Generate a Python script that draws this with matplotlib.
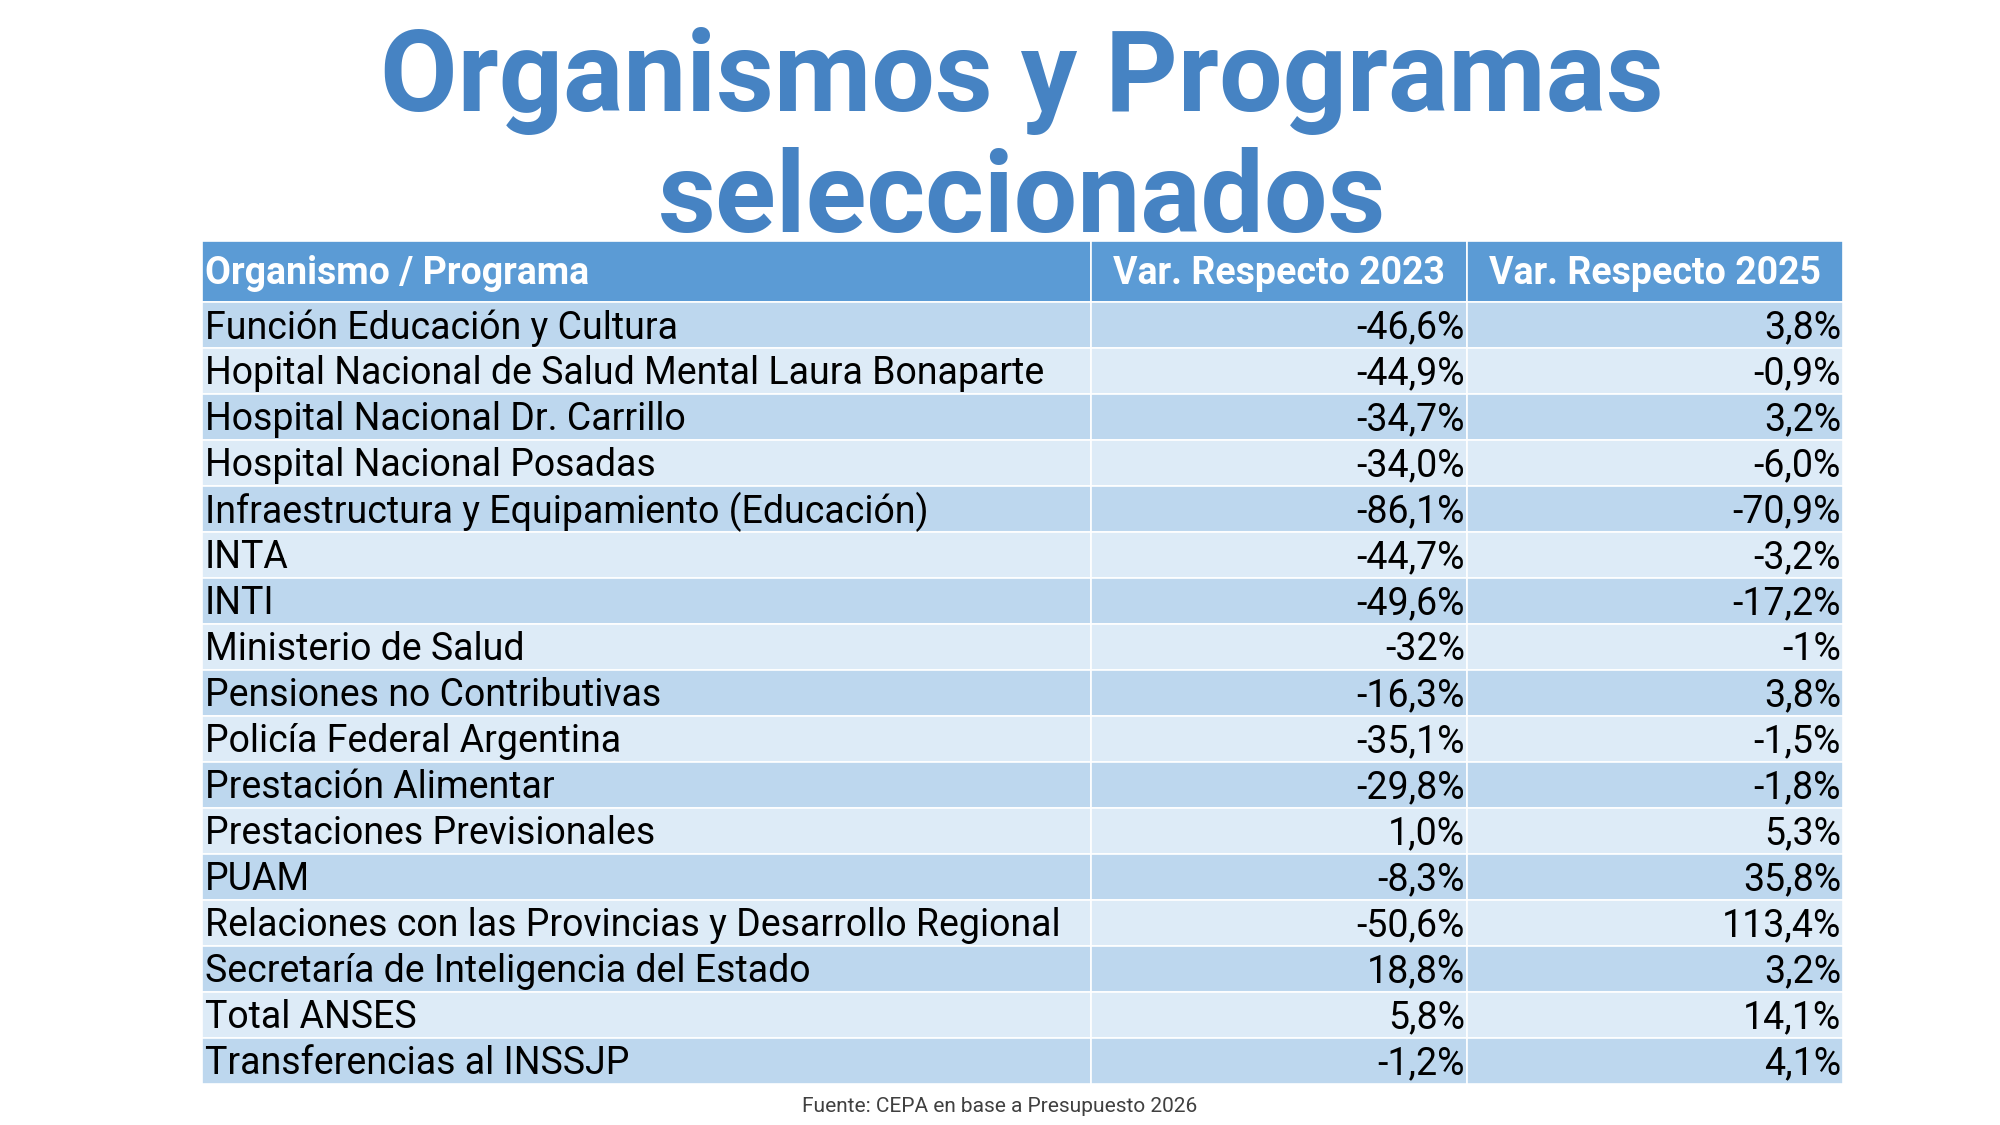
import matplotlib
matplotlib.use('Agg')
import matplotlib.pyplot as plt
from matplotlib.patches import Rectangle

plt.rcParams['font.family'] = ['Roboto', 'DejaVu Sans']

# data
headers = ['Organismo / Programa', 'Var. Respecto 2023', 'Var. Respecto 2025']
organismos = ['Función Educación y Cultura',
              'Hopital Nacional de Salud Mental Laura Bonaparte',
              'Hospital Nacional Dr. Carrillo',
              'Hospital Nacional Posadas',
              'Infraestructura y Equipamiento (Educación)',
              'INTA',
              'INTI',
              'Ministerio de Salud',
              'Pensiones no Contributivas',
              'Policía Federal Argentina',
              'Prestación Alimentar',
              'Prestaciones Previsionales',
              'PUAM',
              'Relaciones con las Provincias y Desarrollo Regional',
              'Secretaría de Inteligencia del Estado',
              'Total ANSES',
              'Transferencias al INSSJP']
var_2023 = ['-46,6%', '-44,9%', '-34,7%', '-34,0%', '-86,1%', '-44,7%', '-49,6%', '-32%',
            '-16,3%', '-35,1%', '-29,8%', '1,0%', '-8,3%', '-50,6%', '18,8%', '5,8%', '-1,2%']
var_2025 = ['3,8%', '-0,9%', '3,2%', '-6,0%', '-70,9%', '-3,2%', '-17,2%', '-1%',
            '3,8%', '-1,5%', '-1,8%', '5,3%', '35,8%', '113,4%', '3,2%', '14,1%', '4,1%']
fuente = 'Fuente: CEPA en base a Presupuesto 2026'

# layout (pixels)
col_x = [202, 1091, 1467, 1843]
top = 241
head_h = 61
row_h = 46

c_title = '#4683C3'
c_head = '#5B9BD5'
c_dark = '#BDD7EE'
c_light = '#DDEBF7'

fig = plt.figure(figsize=(20, 11.25), dpi=100)
ax = fig.add_axes([0, 0, 1, 1])
ax.set_xlim(0, 2000)
ax.set_ylim(1125, 0)
ax.axis('off')

ax.text(1022, 111, 'Organismos y Programas', ha='center', va='baseline',
        fontsize=81, fontweight='bold', color=c_title)
ax.text(1022, 232, 'seleccionados', ha='center', va='baseline',
        fontsize=81, fontweight='bold', color=c_title)

# header
for j in range(3):
    ax.add_patch(Rectangle((col_x[j], top), col_x[j+1]-col_x[j], head_h,
                           facecolor=c_head, edgecolor='white', lw=1.2))
ax.text(col_x[0] + 3, top + head_h/2 + 2, headers[0], ha='left', va='center',
        fontsize=27, fontweight='bold', color='white')
for j in (1, 2):
    ax.text((col_x[j] + col_x[j+1])/2, top + head_h/2 + 2, headers[j], ha='center',
            va='center', fontsize=27, fontweight='bold', color='white')

# rows
for i, (name, a, b) in enumerate(zip(organismos, var_2023, var_2025)):
    y0 = top + head_h + i*row_h
    fc = c_dark if i % 2 == 0 else c_light
    for j in range(3):
        ax.add_patch(Rectangle((col_x[j], y0), col_x[j+1]-col_x[j], row_h,
                               facecolor=fc, edgecolor='white', lw=1.2))
    yc = y0 + row_h/2 + 3
    ax.text(col_x[0] + 3, yc, name, ha='left', va='center', fontsize=27, color='black')
    ax.text(col_x[2] - 2, yc, a, ha='right', va='center', fontsize=27, color='black')
    ax.text(col_x[3] - 2, yc, b, ha='right', va='center', fontsize=27, color='black')

ax.text(1000, 1106, fuente, ha='center', va='center', fontsize=15, color='#404040')

fig.savefig('out.png', dpi=100, facecolor='white')
